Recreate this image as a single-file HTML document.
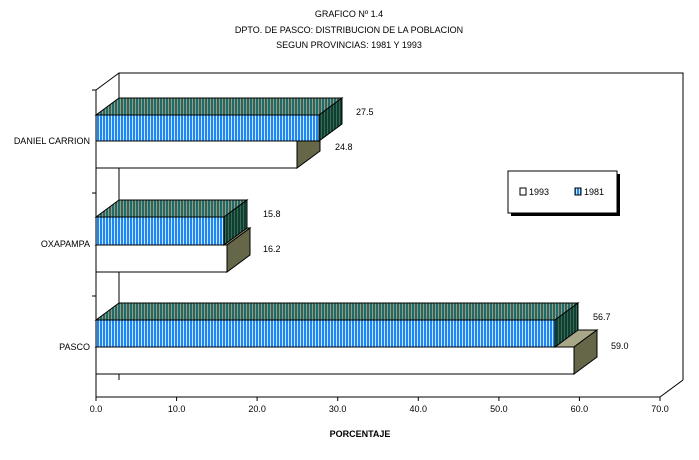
<!DOCTYPE html><html><head><style>body{margin:0;background:#fff}svg{display:block}text{font-family:"Liberation Sans",sans-serif;font-size:9px}</style></head><body>
<svg width="699" height="460" viewBox="0 0 699 460">
<defs>
<pattern id="bl" width="3" height="10" patternUnits="userSpaceOnUse"><rect width="3" height="10" fill="#1e88f0"/><rect width="1" height="10" fill="#c8e4ff"/></pattern>
<pattern id="tp" width="3" height="10" patternUnits="userSpaceOnUse"><rect width="3" height="10" fill="#1f6a6a"/><rect width="1" height="10" fill="#a09878"/></pattern>
<pattern id="sd" width="3" height="10" patternUnits="userSpaceOnUse"><rect width="3" height="10" fill="#0e3e34"/><rect width="1" height="10" fill="#3a6a50"/></pattern>
</defs>
<g text-anchor="middle"><text x="349" y="17">GRAFICO Nº 1.4</text><text x="349" y="33">DPTO. DE PASCO: DISTRIBUCION DE LA POBLACION</text><text x="349" y="48">SEGUN PROVINCIAS: 1981 Y 1993</text></g>
<g stroke="#000" fill="none">
<polyline points="119,380 119,73 683,73 683,380"/>
<polyline points="96,90 119,73"/>
<polyline points="96,397 660,397 683,380"/>
<line x1="96" y1="90" x2="96" y2="397"/>
<line x1="92" y1="90" x2="96" y2="90"/><line x1="92" y1="193" x2="96" y2="193"/><line x1="92" y1="296" x2="96" y2="296"/>
<line x1="96" y1="397" x2="96" y2="401"/><line x1="176.6" y1="397" x2="176.6" y2="401"/><line x1="257.1" y1="397" x2="257.1" y2="401"/><line x1="337.7" y1="397" x2="337.7" y2="401"/><line x1="418.3" y1="397" x2="418.3" y2="401"/><line x1="498.9" y1="397" x2="498.9" y2="401"/><line x1="579.4" y1="397" x2="579.4" y2="401"/><line x1="660" y1="397" x2="660" y2="401"/>
</g>
<g stroke="#000">
<!-- DC -->
<polygon points="297,141 320,124 320,151 297,168" fill="#666648"/>
<rect x="96" y="141" width="201" height="27" fill="#fff"/>
<polygon points="96,115 119,98 342,98 319,115" fill="url(#tp)"/>
<polygon points="319,115 342,98 342,124 319,141" fill="url(#sd)"/>
<rect x="96" y="115" width="223" height="26" fill="url(#bl)"/>
<!-- OX -->
<polygon points="96,245 119,228 250,228 227,245" fill="#a8a888"/>
<polygon points="227,245 250,228 250,255 227,272" fill="#666648"/>
<rect x="96" y="245" width="131" height="27" fill="#fff"/>
<polygon points="96,217 119,200 247,200 224,217" fill="url(#tp)"/>
<polygon points="224,217 247,200 247,228 224,245" fill="url(#sd)"/>
<rect x="96" y="217" width="128" height="28" fill="url(#bl)"/>
<!-- PA -->
<polygon points="96,347 119,330 597,330 574,347" fill="#a8a888"/>
<polygon points="574,347 597,330 597,357 574,374" fill="#666648"/>
<rect x="96" y="347" width="478" height="27" fill="#fff"/>
<polygon points="96,320 119,303 578,303 555,320" fill="url(#tp)"/>
<polygon points="555,320 578,303 578,330 555,347" fill="url(#sd)"/>
<rect x="96" y="320" width="459" height="27" fill="url(#bl)"/>
</g>
<g font-size="8"><text x="356" y="115">27.5</text><text x="335" y="150">24.8</text><text x="263" y="217">15.8</text><text x="263" y="252">16.2</text><text x="593" y="320">56.7</text><text x="611" y="349">59.0</text></g>
<g text-anchor="end"><text x="90" y="144">DANIEL CARRION</text><text x="90" y="247">OXAPAMPA</text><text x="90" y="350">PASCO</text></g>
<g text-anchor="middle" font-size="8"><text x="96" y="412">0.0</text><text x="176.6" y="412">10.0</text><text x="257.1" y="412">20.0</text><text x="337.7" y="412">30.0</text><text x="418.3" y="412">40.0</text><text x="498.9" y="412">50.0</text><text x="579.4" y="412">60.0</text><text x="660" y="412">70.0</text></g>
<text x="360" y="437" text-anchor="middle" font-weight="bold">PORCENTAJE</text>
<rect x="511" y="174" width="109" height="42" fill="#000"/>
<rect x="508" y="171" width="109" height="42" fill="#fff" stroke="#000"/>
<rect x="520" y="188" width="6" height="7" fill="#fff" stroke="#000"/>
<text x="529" y="195">1993</text>
<rect x="575" y="188" width="6" height="7" fill="url(#bl)" stroke="#000"/>
<text x="584" y="195">1981</text>
</svg></body></html>
